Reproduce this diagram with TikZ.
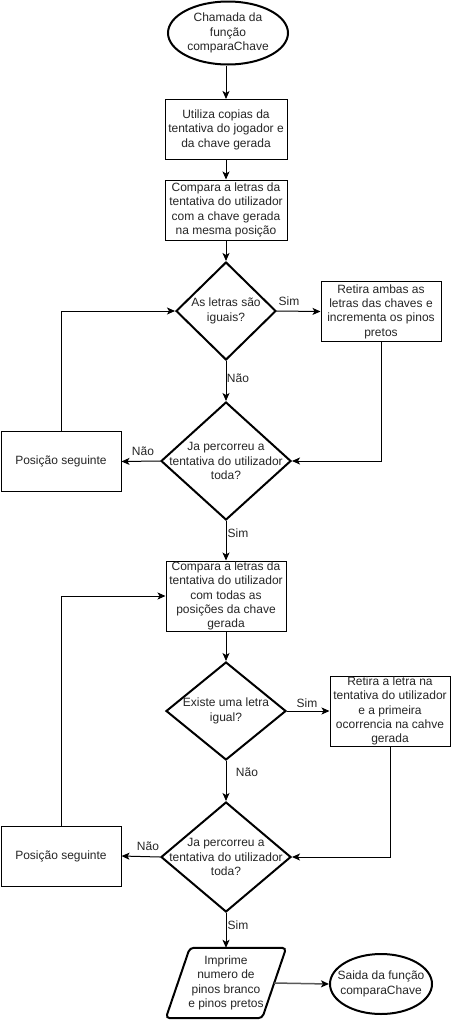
\documentclass[tikz,border=0pt]{standalone}
\usepackage{fontspec}
\setmainfont{Liberation Sans}
\usetikzlibrary{shapes.geometric,arrows.meta}
\begin{document}
\begin{tikzpicture}[x=1pt,y=-1pt,
  every node/.style={font=\fontsize{12pt}{14.4pt}\selectfont, align=center, inner sep=0pt, text=black!85},
  box/.style={draw, line width=1pt, rectangle},
  dia/.style={draw, line width=2pt, diamond, aspect=1},
  term/.style={draw, line width=2pt, ellipse},
  lbl/.style={inner sep=1pt},
  arr/.style={line width=1pt, -{Stealth[length=8pt,width=7pt,inset=2pt]}},
  garr/.style={line width=1.5pt, draw=black!65, -{Stealth[length=8pt,width=7pt,inset=2pt,color=black]}}
]
\useasboundingbox (0,0) rectangle (451,1020);
\fill[white] (0,0) rectangle (451,1020);

% nodes
\node[term, minimum width=120pt, minimum height=63pt] (start) at (228,33) {};
\node at (start) {Chamada da\\função\\comparaChave};
\node[box, minimum width=122pt, minimum height=60pt] (b1) at (226,129.5) {Utiliza copias da\\tentativa do jogador e\\da chave gerada};
\node[box, minimum width=122pt, minimum height=60pt] (b2) at (226,210) {Compara a letras da\\tentativa do utilizador\\com a chave gerada\\na mesma posição};
\node[dia, minimum width=100pt, minimum height=98pt] (d1) at (226,311) {};
\node at (d1) {As letras são\\iguais?};
\node[box, minimum width=120pt, minimum height=60pt] (r1) at (381,311.5) {Retira ambas as\\letras das chaves e\\incrementa os pinos\\pretos};
\node[dia, minimum width=130pt, minimum height=118pt] (d2) at (226,461) {};
\node at (d2) {Ja percorreu a\\tentativa do utilizador\\toda?};
\node[box, minimum width=120pt, minimum height=60pt] (p1) at (61,461.5) {Posição seguinte};
\node[box, minimum width=120pt, minimum height=70pt] (b3) at (226,596) {Compara a letras da\\tentativa do utilizador\\com todas as\\posições da chave\\gerada};
\node[dia, minimum width=120pt, minimum height=98pt] (d3) at (226,711) {};
\node at (d3) {Existe uma letra\\igual?};
\node[box, minimum width=120pt, minimum height=70pt] (r2) at (390,711) {Retira a letra na\\tentativa do utilizador\\e a primeira\\ocorrencia na cahve\\gerada};
\node[dia, minimum width=130pt, minimum height=110pt] (d4) at (226,857) {};
\node at (d4) {Ja percorreu a\\tentativa do utilizador\\toda?};
\node[box, minimum width=120pt, minimum height=60pt] (p2) at (61,856) {Posição seguinte};
\node[minimum width=96pt, minimum height=70pt] (io) at (226,983) {Imprime\\numero de\\pinos branco\\e pinos pretos};
\draw[line width=2pt, rounded corners=4pt]
  ([xshift=12pt]io.north west) -- ([xshift=12pt]io.north east) --
  ([xshift=-12pt]io.south east) -- ([xshift=-12pt]io.south west) -- cycle;
\node[term, minimum width=102pt, minimum height=60pt] (end) at (381,984) {};
\node at (end) {Saida da função\\comparaChave};

% connectors
\draw[arr] (start.south -| b1.north) -- (b1.north);
\draw[arr] (b1) -- (b2);
\draw[arr] (b2) -- (d1);
\draw[arr] (d1.east) -- (r1.west);
\draw[arr] (d1.south) -- (d2.north);
\draw[arr] (r1.south) |- (d2.east);
\draw[arr] (d2.west) -- (p1.east);
\draw[arr] (p1.north) |- (d1.west);
\draw[arr] (d2.south) -- (b3.north);
\draw[arr] (b3.south) -- (d3.north);
\draw[arr] (d3.east) -- (r2.west);
\draw[arr] (d3.south) -- (d4.north);
\draw[arr] (r2.south) |- (d4.east);
\draw[arr] (d4.west) -- (p2.east);
\draw[arr] (p2.north) |- (b3.west);
\draw[arr] (d4.south) -- (io.north);
\draw[garr] (io.east) -- (end.west);

% labels
\node[lbl] (l1) at (289,301) {Sim};
\node[lbl] (l2) at (238,378) {Não};
\node[lbl] (l3) at (143,451) {Não};
\node[lbl] (l4) at (238,533) {Sim};
\node[lbl] (l5) at (307,703) {Sim};
\node[lbl] (l6) at (247,772) {Não};
\node[lbl] (l7) at (148,846) {Não};
\node[lbl] (l8) at (238,925) {Sim};
\end{tikzpicture}
\end{document}
